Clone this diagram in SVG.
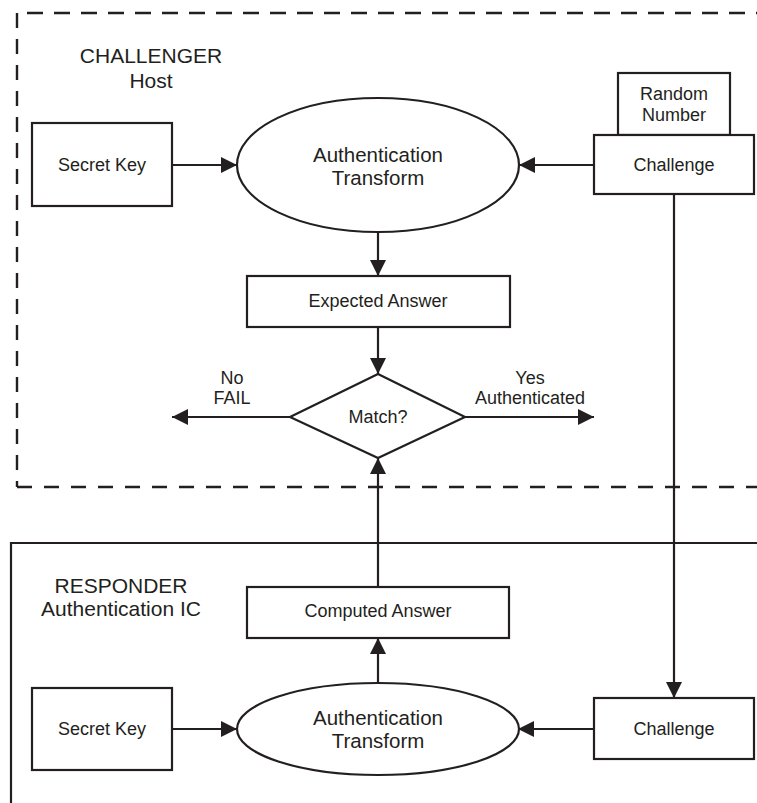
<svg xmlns="http://www.w3.org/2000/svg" width="757" height="803" viewBox="0 0 757 803">
<style>
  .box { fill: #fff; stroke: #231f20; stroke-width: 2.2; }
  .ln { fill: none; stroke: #231f20; stroke-width: 2.2; }
  .dash { fill: none; stroke: #231f20; stroke-width: 2.4; }
  .t { font-family: "Liberation Sans", Arial, sans-serif; font-size: 18px; fill: #231f20; text-anchor: middle; }
  .big { font-size: 20.5px; }
  .hdr { font-size: 21px; }
</style>
<defs>
  <marker id="ah" viewBox="0 0 16 16" refX="16" refY="8" markerWidth="16" markerHeight="16" markerUnits="userSpaceOnUse" orient="auto">
    <path d="M0,0 L16,8 L0,16 z" fill="#231f20"/>
  </marker>
</defs>
<rect width="757" height="803" fill="#fff"/>

<g id="challenger-region">
  <line class="dash" x1="17" y1="13" x2="17" y2="487" stroke-dasharray="15 11" stroke-dashoffset="0"/>
  <line class="dash" x1="27" y1="13" x2="757" y2="13" stroke-dasharray="16 11"/>
  <line class="dash" x1="17" y1="487" x2="757" y2="487" stroke-dasharray="15 12"/>
  <text class="t hdr" x="151" y="63">CHALLENGER</text>
  <text class="t hdr" x="151" y="87.5">Host</text>
</g>
<g id="responder-region">
  <path d="M757,543 H11 V803" fill="none" stroke="#231f20" stroke-width="2.2"/>
  <text class="t hdr" x="121" y="592.5">RESPONDER</text>
  <text class="t hdr" x="121" y="615.5">Authentication IC</text>
</g>

<g id="connectors">
  <line class="ln" x1="172" y1="165" x2="237" y2="165" marker-end="url(#ah)"/>
  <line class="ln" x1="594" y1="165" x2="519" y2="165" marker-end="url(#ah)"/>
  <line class="ln" x1="378" y1="232" x2="378" y2="276" marker-end="url(#ah)"/>
  <line class="ln" x1="378" y1="327" x2="378" y2="374" marker-end="url(#ah)"/>
  <line class="ln" x1="290" y1="417" x2="172" y2="417" marker-end="url(#ah)"/>
  <line class="ln" x1="465" y1="417" x2="594" y2="417" marker-end="url(#ah)"/>
  <line class="ln" x1="378" y1="587" x2="378" y2="458" marker-end="url(#ah)"/>
  <line class="ln" x1="378" y1="683" x2="378" y2="638" marker-end="url(#ah)"/>
  <line class="ln" x1="674" y1="194" x2="674" y2="698" marker-end="url(#ah)"/>
  <line class="ln" x1="172" y1="729" x2="237" y2="729" marker-end="url(#ah)"/>
  <line class="ln" x1="594" y1="729" x2="518" y2="729" marker-end="url(#ah)"/>
  <text class="t" x="232" y="384">No</text>
  <text class="t" x="232" y="404">FAIL</text>
  <text class="t" x="530" y="384">Yes</text>
  <text class="t" x="530" y="404">Authenticated</text>
</g>

<g id="secret-key-host">
  <rect class="box" x="32" y="123" width="140" height="83"/>
  <text class="t" x="102" y="171">Secret Key</text>
</g>
<g id="auth-transform-host">
  <ellipse class="box" cx="378" cy="165" rx="141" ry="67"/>
  <text class="t big" x="378" y="162">Authentication</text>
  <text class="t big" x="378" y="185">Transform</text>
</g>
<g id="random-number">
  <rect class="box" x="618" y="73" width="112" height="62"/>
  <text class="t" x="674" y="100">Random</text>
  <text class="t" x="674" y="121">Number</text>
</g>
<g id="challenge-host">
  <rect class="box" x="594" y="135" width="160" height="59"/>
  <text class="t" x="674" y="171">Challenge</text>
</g>
<g id="expected-answer">
  <rect class="box" x="247" y="276" width="263" height="51"/>
  <text class="t" x="378" y="307">Expected Answer</text>
</g>
<g id="match">
  <polygon class="box" points="378,374 465,417 378,458 290,417"/>
  <text class="t" x="378" y="423">Match?</text>
</g>
<g id="computed-answer">
  <rect class="box" x="247" y="587" width="262" height="51"/>
  <text class="t" x="378" y="617">Computed Answer</text>
</g>
<g id="secret-key-ic">
  <rect class="box" x="32" y="688" width="140" height="82"/>
  <text class="t" x="102" y="735">Secret Key</text>
</g>
<g id="auth-transform-ic">
  <ellipse class="box" cx="378" cy="729" rx="141" ry="46"/>
  <text class="t big" x="378" y="725">Authentication</text>
  <text class="t big" x="378" y="748">Transform</text>
</g>
<g id="challenge-ic">
  <rect class="box" x="594" y="698" width="160" height="61"/>
  <text class="t" x="674" y="735">Challenge</text>
</g>
</svg>
